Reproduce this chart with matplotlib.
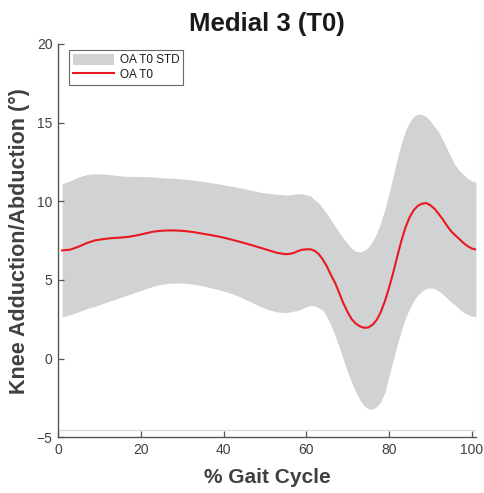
import matplotlib
matplotlib.use("Agg")
import matplotlib.pyplot as plt
from matplotlib.patches import Patch
from matplotlib.lines import Line2D

plt.rcParams['font.family'] = ['Liberation Sans', 'DejaVu Sans']

# % gait cycle samples
gait = [1, 3, 5, 7, 9, 11, 13, 15, 17, 19, 21, 23, 25, 27, 29, 31, 33, 35,
        37, 39, 41, 43, 45, 47, 49, 51, 53, 55,
        56, 57, 58, 59, 60, 61, 62, 63, 64, 65, 66, 67, 68, 69, 70, 71, 72,
        73, 74, 75, 76, 77, 78, 79, 80, 81, 82, 83, 84, 85, 86, 87, 88, 89,
        90, 91, 92, 93, 94, 95, 96, 97, 98, 99, 100, 101]

# mean knee adduction/abduction angle (deg)
mean_t0 = [6.88, 6.93, 7.12, 7.35, 7.52, 7.60, 7.66, 7.69, 7.74, 7.83, 7.95,
           8.07, 8.13, 8.15, 8.14, 8.10, 8.03, 7.94, 7.85, 7.75, 7.63, 7.49,
           7.35, 7.20, 7.04, 6.88, 6.72, 6.64,
           6.66, 6.72, 6.84, 6.92, 6.95, 6.95, 6.86, 6.65, 6.30, 5.85, 5.30,
           4.80, 4.15, 3.50, 2.95, 2.50, 2.22, 2.05, 1.96, 1.98, 2.15, 2.45,
           2.95, 3.65, 4.50, 5.45, 6.50, 7.50, 8.35, 9.00, 9.45, 9.72, 9.85,
           9.89, 9.75, 9.53, 9.20, 8.85, 8.45, 8.10, 7.84, 7.60, 7.35, 7.15,
           7.00, 6.93]

# mean + 1 SD
upper_t0 = [11.12, 11.30, 11.55, 11.70, 11.75, 11.73, 11.68, 11.62, 11.58,
            11.58, 11.57, 11.54, 11.50, 11.47, 11.44, 11.40, 11.33, 11.26,
            11.18, 11.10, 11.00, 10.90, 10.80, 10.68, 10.57, 10.50, 10.45,
            10.40,
            10.40, 10.45, 10.48, 10.47, 10.42, 10.35, 10.10, 9.90, 9.55, 9.20,
            8.80, 8.40, 8.00, 7.65, 7.30, 7.00, 6.82, 6.79, 6.88, 7.08, 7.45,
            7.95, 8.65, 9.50, 10.50, 11.60, 12.70, 13.70, 14.50, 15.05, 15.40,
            15.55, 15.52, 15.38, 15.10, 14.75, 14.40, 13.90, 13.35, 12.80,
            12.30, 11.95, 11.70, 11.45, 11.30, 11.22]

# mean - 1 SD
lower_t0 = [2.65, 2.80, 2.98, 3.18, 3.33, 3.52, 3.70, 3.88, 4.06, 4.24, 4.42,
            4.60, 4.72, 4.80, 4.81, 4.78, 4.72, 4.62, 4.50, 4.37, 4.22, 4.03,
            3.80, 3.55, 3.30, 3.10, 2.97, 2.93,
            2.96, 3.02, 3.07, 3.18, 3.30, 3.38, 3.35, 3.22, 3.08, 2.65, 2.10,
            1.45, 0.70, -0.10, -0.85, -1.55, -2.15, -2.65, -3.00, -3.18,
            -3.22, -3.05, -2.75, -2.15, -1.10, -0.10, 0.90, 1.80, 2.60, 3.20,
            3.70, 4.05, 4.30, 4.45, 4.50, 4.45, 4.30, 4.10, 3.85, 3.60, 3.40,
            3.15, 2.95, 2.80, 2.70, 2.65]

x_ticks = [0, 20, 40, 60, 80, 100]
y_ticks = [-5, 0, 5, 10, 15, 20]

fig = plt.figure(figsize=(4.85, 4.93), dpi=100)
ax = fig.add_axes([0.1196, 0.113, 0.8625, 0.7978])

band_color = '#d1d2d4'
line_color = '#e8191f'
axis_gray = '#555555'
text_gray = '#404040'

ax.fill_between(gait, lower_t0, upper_t0, color=band_color, linewidth=0)
ax.plot(gait, mean_t0, color=line_color, linewidth=1.5)

ax.set_xlim(0, 101.1)
ax.set_ylim(-5, 20)
ax.set_xticks(x_ticks)
ax.set_yticks(y_ticks)

# faint inner box edges
ax.axhline(-4.54, color='#d9d9d9', linewidth=0.9, zorder=0)
ax.axvline(101.05, color='#e3e3e3', linewidth=0.9, zorder=0)

for side in ('top', 'right'):
    ax.spines[side].set_visible(False)
for side in ('left', 'bottom'):
    ax.spines[side].set_color(axis_gray)
    ax.spines[side].set_linewidth(1.0)

ax.tick_params(direction='in', length=4, width=0.9, color=axis_gray,
               labelsize=10, labelcolor=text_gray, pad=4)

ax.set_xlabel('% Gait Cycle', fontsize=15, fontweight='bold',
              color=text_gray, labelpad=8)
ax.set_ylabel('Knee Adduction/Abduction (°)', fontsize=15.5,
              fontweight='bold', color=text_gray, labelpad=5)
ax.set_title('Medial 3 (T0)', fontsize=18.5, fontweight='bold',
             color='#1a1a1a', pad=9)

handles = [Patch(facecolor=band_color, edgecolor='none', label='OA T0 STD'),
           Line2D([0], [0], color=line_color, linewidth=1.5, label='OA T0')]
leg = ax.legend(handles=handles, loc='upper left',
                bbox_to_anchor=(0.026, 0.985), borderaxespad=0,
                fontsize=8.5, frameon=True, fancybox=False,
                handlelength=3.5, handleheight=1.0, handletextpad=0.45,
                borderpad=0.35, labelspacing=0.2)
leg.get_frame().set_edgecolor('#444444')
leg.get_frame().set_linewidth(0.8)
for t in leg.get_texts():
    t.set_color('#1a1a1a')

fig.savefig('out.png', dpi=100, facecolor='white')
